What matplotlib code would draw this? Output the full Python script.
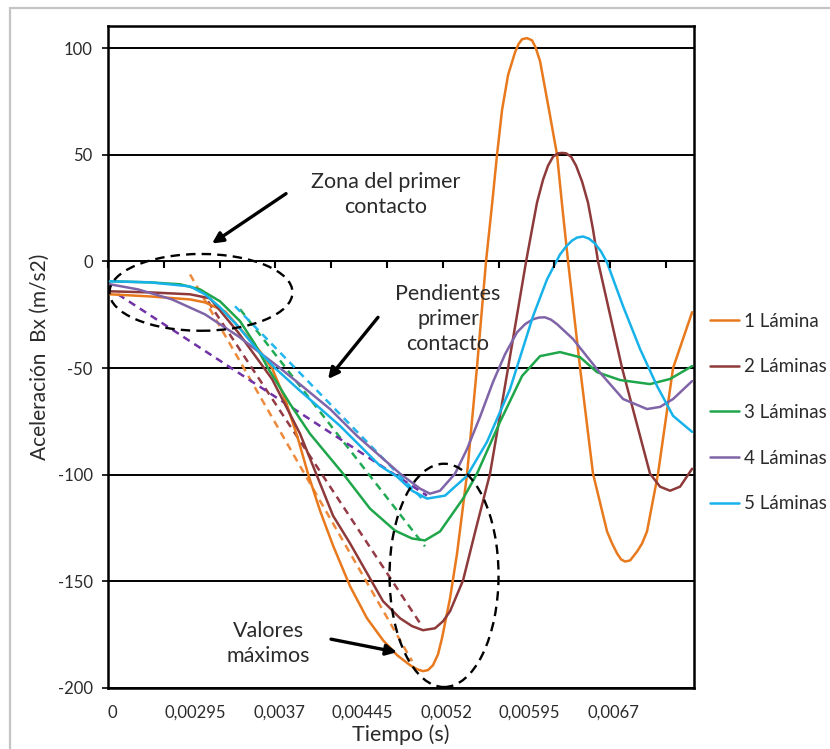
import matplotlib.pyplot as plt
from matplotlib.patches import Ellipse, Rectangle
import numpy as np

plt.rcParams['font.family'] = ['Lato', 'DejaVu Sans']
plt.rcParams['axes.unicode_minus'] = False

# Tiempo (s) y aceleracion Bx (m/s2)
t1 = [0.002182, 0.002541, 0.002901, 0.003035, 0.003215, 0.003395, 0.003529, 0.003637,
      0.003754, 0.003871, 0.003960, 0.004068, 0.004185, 0.004338, 0.004490, 0.004634,
      0.004760, 0.004877, 0.004940, 0.004993, 0.005038, 0.005083, 0.005128, 0.005164,
      0.005236, 0.005299, 0.005389, 0.005478, 0.005559, 0.005613, 0.005658, 0.005703,
      0.005757, 0.005820, 0.005852, 0.005883, 0.005927, 0.005972, 0.006003, 0.006044,
      0.006125, 0.006197, 0.006242, 0.006296, 0.006404, 0.006520, 0.006646, 0.006691,
      0.006736, 0.006772, 0.006808, 0.006853, 0.006916, 0.006961, 0.007005, 0.007104,
      0.007239, 0.007410]
a1 = [-15.4, -16.4, -17.8, -19.2, -23.4, -34.1, -42.1, -50.0,
      -64.5, -83.2, -99.5, -116.8, -133.2, -152.3, -167.3, -177.6,
      -184.6, -189.3, -191.2, -192.1, -191.6, -189.3, -184.2, -176.6,
      -157.9, -136.9, -99.5, -49.5, 0.0, 26.6, 50.0, 71.0,
      87.4, 98.1, 102.0, 104.2, 104.7, 103.7, 100.5, 94.0,
      71.0, 50.0, 26.6, 0.0, -50.0, -99.5, -126.6, -132.2,
      -136.9, -139.7, -140.7, -140.2, -136.0, -132.2, -126.6, -99.5,
      -50.0, -23.8]

t2 = [0.002182, 0.002541, 0.002901, 0.003080, 0.003332, 0.003637, 0.003889, 0.004185,
      0.004338, 0.004634, 0.004787, 0.004895, 0.004993, 0.005101, 0.005173, 0.005236,
      0.005353, 0.005469, 0.005595, 0.005757, 0.005919, 0.005972, 0.006017, 0.006071,
      0.006116, 0.006161, 0.006206, 0.006242, 0.006278, 0.006323, 0.006368, 0.006422,
      0.006475, 0.006520, 0.006565, 0.006781, 0.007032, 0.007122, 0.007212, 0.007302,
      0.007410]
a2 = [-14.0, -14.5, -15.4, -17.3, -33.2, -55.1, -80.8, -119.2,
      -132.2, -159.3, -167.3, -171.0, -172.9, -172.0, -168.7, -164.0,
      -149.5, -125.2, -99.5, -50.0, 0.0, 15.0, 27.6, 38.3,
      44.9, 49.1, 50.7, 50.9, 50.7, 49.1, 44.9, 37.4,
      27.6, 15.0, 0.0, -50.0, -99.5, -105.6, -107.5, -105.6,
      -97.2]

t3 = [0.002182, 0.002541, 0.002811, 0.002990, 0.003170, 0.003350, 0.003484, 0.003601,
      0.003799, 0.003978, 0.004275, 0.004517, 0.004742, 0.004895, 0.005011, 0.005146,
      0.005353, 0.005478, 0.005685, 0.005883, 0.006044, 0.006224, 0.006404, 0.006556,
      0.006763, 0.007032, 0.007212, 0.007410]
a3 = [-9.3, -9.8, -10.7, -13.1, -18.7, -28.0, -38.8, -50.0,
      -66.8, -80.8, -99.5, -115.9, -126.2, -129.9, -130.8, -126.6,
      -111.2, -99.5, -75.2, -53.7, -44.4, -42.5, -44.9, -51.9,
      -55.6, -57.5, -55.1, -49.1]

t4 = [0.002182, 0.002434, 0.002739, 0.003035, 0.003332, 0.003709, 0.003907, 0.004158,
      0.004401, 0.004787, 0.004966, 0.005056, 0.005146, 0.005281, 0.005389, 0.005505,
      0.005622, 0.005730, 0.005838, 0.005910, 0.005981, 0.006035, 0.006089, 0.006143,
      0.006197, 0.006341, 0.006556, 0.006790, 0.007005, 0.007122, 0.007239, 0.007410]
a4 = [-10.7, -13.1, -17.8, -24.8, -35.0, -50.0, -58.4, -69.2,
      -81.8, -99.5, -106.5, -108.9, -107.5, -99.5, -87.9, -72.9,
      -56.5, -43.5, -33.2, -29.4, -27.1, -26.3, -26.2, -27.3,
      -29.4, -36.4, -50.5, -64.5, -69.2, -68.2, -64.5, -56.1]

t5 = [0.002182, 0.002541, 0.002901, 0.003035, 0.003170, 0.003332, 0.003493, 0.003664,
      0.003871, 0.004248, 0.004607, 0.004760, 0.004895, 0.005029, 0.005191, 0.005389,
      0.005568, 0.005775, 0.005981, 0.006107, 0.006224, 0.006278, 0.006332, 0.006377,
      0.006431, 0.006484, 0.006538, 0.006592, 0.006646, 0.006790, 0.006943, 0.007095,
      0.007239, 0.007410]
a5 = [-9.3, -9.8, -11.7, -15.4, -21.5, -30.4, -40.7, -50.0,
      -59.8, -77.1, -95.8, -100.9, -107.5, -111.2, -109.8, -100.5,
      -84.6, -59.8, -25.7, -8.4, 3.3, 7.0, 9.8, 11.2,
      11.7, 10.7, 8.4, 4.7, -0.5, -21.0, -41.1, -58.4,
      -72.4, -79.9]

# Pendientes del primer contacto (inicio, fin)
slope_t = [[0.002901, 0.004895], [0.003062, 0.004984], [0.003350, 0.005011],
           [0.002254, 0.005029], [0.003305, 0.005011]]
slope_a = [[-6.1, -187.4], [-18.7, -171.0], [-22.4, -133.6],
           [-15.4, -109.8], [-21.0, -112.6]]

labels = ['1 Lámina', '2 Láminas', '3 Láminas', '4 Láminas', '5 Láminas']
colors = ['#E8791C', '#8E3A3A', '#1FA64A', '#8064A8', '#18B2EA']
dash_colors = ['#EE8A3C', '#943B45', '#22AA55', '#7032A6', '#22B5EE']

xtick_pos = [0.0022, 0.00295, 0.0037, 0.00445, 0.0052, 0.00595, 0.0067]
xtick_lab = ['0', '0,00295', '0,0037', '0,00445', '0,0052', '0,00595', '0,0067']
yticks = [-200, -150, -100, -50, 0, 50, 100]
xlim = (0.002164, 0.007427)
ylim = (-200, 110.4)

text_color = '#2B2B2B'

fig = plt.figure(figsize=(8.3, 7.49), dpi=100)
fig.patches.append(Rectangle((10 / 830, -0.1), 2, 1.1 - 8 / 749, transform=fig.transFigure,
                             fill=False, edgecolor='#C4C4C4', lw=1.6))
ax_box = [108 / 830, 1 - 688 / 749, 586 / 830, 662 / 749]
ax = fig.add_axes(ax_box)

series = [(t1, a1), (t2, a2), (t3, a3), (t4, a4), (t5, a5)]
for (t, a), lab, c in zip(series, labels, colors):
    ax.plot(t, a, color=c, lw=1.8, label=lab, zorder=4,
            solid_capstyle='round', solid_joinstyle='round')
for st, sa, c in zip(slope_t, slope_a, dash_colors):
    ax.plot(st, sa, color=c, lw=1.8, ls=(0, (3, 2.2)), zorder=3)

ax.set_xlim(*xlim)
ax.set_ylim(*ylim)
ax.set_yticks(yticks)
ax.set_xticks(xtick_pos)
ax.set_xticklabels(xtick_lab)
ax.yaxis.grid(True, color='black', lw=1.4, zorder=1)
ax.set_axisbelow(True)
for s in ax.spines.values():
    s.set_linewidth(1.8)
    s.set_color('black')
ax.tick_params(axis='y', length=4, width=1.2, pad=7, labelsize=12, labelcolor=text_color)
ax.tick_params(axis='x', length=0, pad=12, labelsize=12, labelcolor=text_color)
ax.set_xlabel('Tiempo (s)', fontsize=15.5, color=text_color, labelpad=3)
ax.set_ylabel('Aceleración  Bx (m/s2)', fontsize=15, color=text_color, labelpad=6)

# marcas del eje horizontal sobre la linea de cero
zero_frac = (0 - ylim[0]) / (ylim[1] - ylim[0])
tick_ax = fig.add_axes([ax_box[0], ax_box[1] + zero_frac * ax_box[3], ax_box[2], 1e-4])
tick_ax.set_xlim(*xlim)
tick_ax.set_xticks(np.arange(0.002156, 0.0074, 0.000502))
tick_ax.set_yticks([])
tick_ax.tick_params(axis='x', direction='out', length=5, width=1.5, labelbottom=False)
tick_ax.patch.set_visible(False)
for s in tick_ax.spines.values():
    s.set_visible(False)

ell_kw = dict(fill=False, edgecolor='black', lw=1.7, ls=(0, (4, 2.6)), zorder=5)
ax.add_patch(Ellipse((0.002999, -14.5), 0.001644, 36.0, **ell_kw))
ax.add_patch(Ellipse((0.005182, -147.2), 0.000979, 104.7, **ell_kw))

arrow_kw = dict(arrowstyle='-|>', lw=2.4, color='black', mutation_scale=16,
                shrinkA=0, shrinkB=0)
ax.annotate('', xy=(0.003098, 8.4), xytext=(0.003763, 31.8), arrowprops=arrow_kw, zorder=6)
ax.annotate('', xy=(0.004140, -55.1), xytext=(0.004589, -26.2), arrowprops=arrow_kw, zorder=6)
ax.annotate('', xy=(0.004760, -183.2), xytext=(0.004167, -177.1), arrowprops=arrow_kw, zorder=6)

txt_kw = dict(fontsize=15.5, color=text_color, ha='center', va='center', linespacing=1.3, zorder=6)
ax.text(0.004661, 31.3, 'Zona del primer\ncontacto', **txt_kw)
ax.text(0.005218, -27.1, 'Pendientes\nprimer\ncontacto', **txt_kw)
ax.text(0.003601, -179.0, 'Valores\nmáximos', **txt_kw)

leg = fig.legend(loc='center left', bbox_to_anchor=(710 / 830, 1 - 412.5 / 749), frameon=False,
                 fontsize=13.5, handlelength=1.55, handletextpad=0.25, labelspacing=1.53,
                 borderpad=0, borderaxespad=0)
for txt in leg.get_texts():
    txt.set_color(text_color)

fig.savefig('out.png', dpi=100)
